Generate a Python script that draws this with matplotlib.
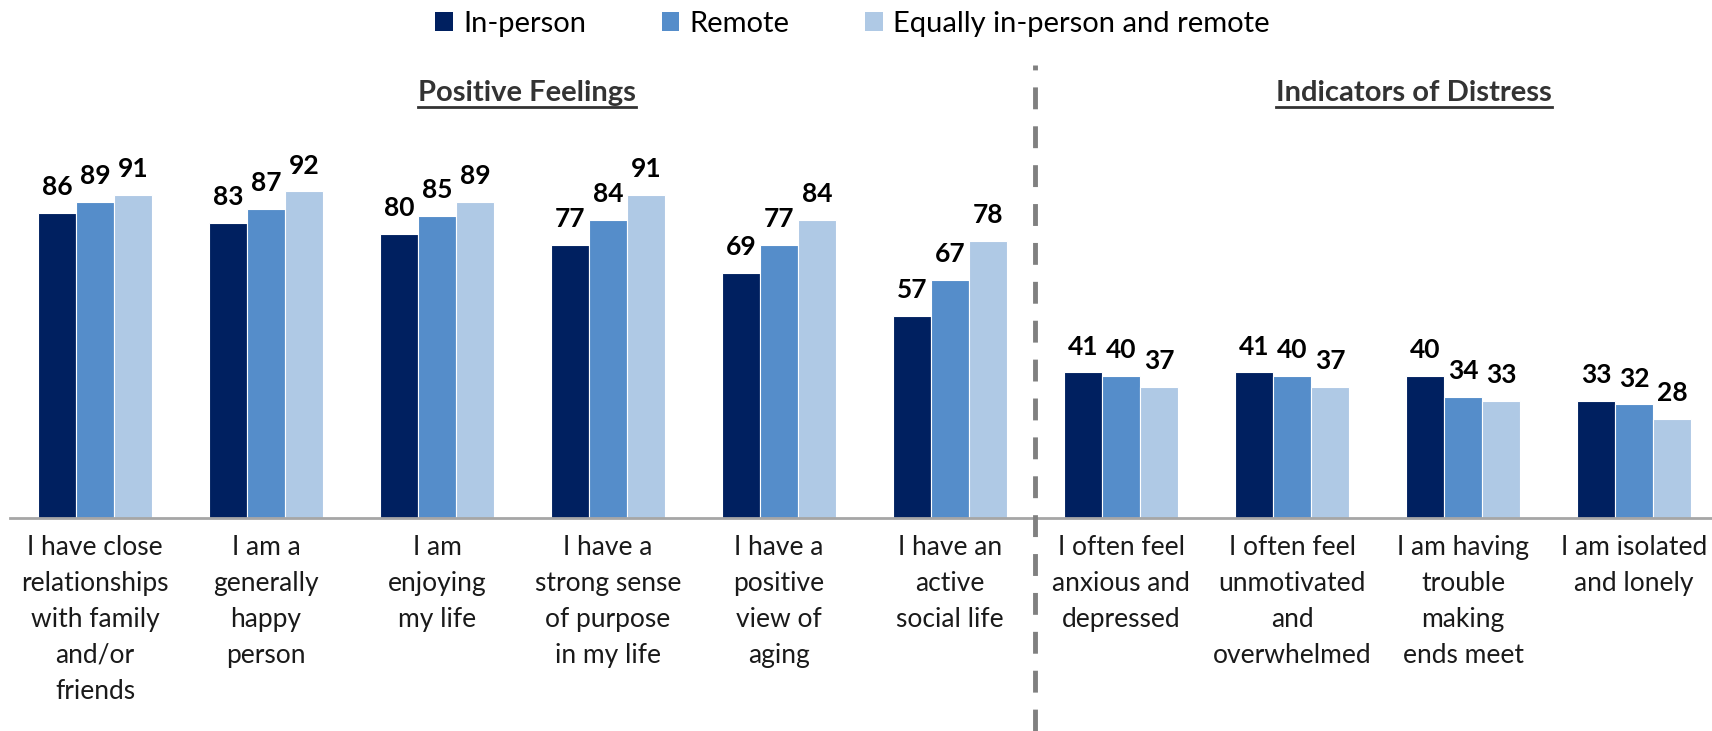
import matplotlib.pyplot as plt
import numpy as np
from matplotlib.lines import Line2D

plt.rcParams['font.family'] = ['Lato', 'DejaVu Sans']

categories = ['I have close\nrelationships\nwith family\nand/or\nfriends',
              'I am a\ngenerally\nhappy\nperson',
              'I am\nenjoying\nmy life',
              'I have a\nstrong sense\nof purpose\nin my life',
              'I have a\npositive\nview of\naging',
              'I have an\nactive\nsocial life',
              'I often feel\nanxious and\ndepressed',
              'I often feel\nunmotivated\nand\noverwhelmed',
              'I am having\ntrouble\nmaking\nends meet',
              'I am isolated\nand lonely']
series = ['In-person', 'Remote', 'Equally in-person and remote']
in_person = [86, 83, 80, 77, 69, 57, 41, 41, 40, 33]
remote = [89, 87, 85, 84, 77, 67, 40, 40, 34, 32]
equal = [91, 92, 89, 91, 84, 78, 37, 37, 33, 28]
colors = ['#002060', '#558DCA', '#AFC9E5']

fig = plt.figure(figsize=(17.12, 7.31), dpi=100)
ax = fig.add_axes([10/1712, (731-518)/731, 1 - 10/1712, 355/731])

x = np.arange(len(categories))
w = 38/171
for i, vals in enumerate([in_person, remote, equal]):
    bars = ax.bar(x + (i - 1)*w, vals, w, color=colors[i], edgecolor='white',
                  linewidth=0.8, label=series[i])
    for b, v in zip(bars, vals):
        ax.annotate(str(v), (b.get_x() + b.get_width()/2, v), xytext=(0, 10),
                    textcoords='offset points', ha='center', va='bottom',
                    fontsize=19, fontweight='bold', color='black')

ax.set_xlim(-0.497, 9.456)
ax.set_ylim(0, 100)
for s in ['top', 'right', 'left']:
    ax.spines[s].set_visible(False)
ax.spines['bottom'].set_color('#A6A6A6')
ax.spines['bottom'].set_linewidth(2)
ax.set_yticks([])
ax.set_xticks(x)
ax.set_xticklabels(categories, fontsize=19, color='#1a1a1a', linespacing=1.55, va='top')
ax.tick_params(axis='x', length=0, pad=12)

# dashed separator
fig.add_artist(Line2D([1035/1712, 1035/1712], [0, 1 - 65/731], color='#808080',
                      linewidth=3.5, linestyle=(0, (4.5, 3.5))))

# section titles
titles = []
titles.append(fig.text(527/1712, 1 - 93/731, 'Positive Feelings', ha='center', va='center',
                       fontsize=21, fontweight='bold', color='#333333'))
titles.append(fig.text(1414/1712, 1 - 93/731, 'Indicators of Distress', ha='center', va='center',
                       fontsize=21, fontweight='bold', color='#333333'))
fig.canvas.draw()
r = fig.canvas.get_renderer()
for t in titles:
    bb = t.get_window_extent(r)
    yy = (bb.y0 - 1) / 731
    fig.add_artist(Line2D([bb.x0/1712, bb.x1/1712], [yy, yy], color='#333333', linewidth=2))

leg = fig.legend(loc='center', bbox_to_anchor=(0.498, 1 - 24/731), ncol=3, frameon=False,
                 fontsize=21, handlelength=0.6, handleheight=0.6, handletextpad=0.35,
                 columnspacing=2.6)
for h in leg.legend_handles:
    h.set_edgecolor('none')

fig.savefig('out.png', dpi=100)
